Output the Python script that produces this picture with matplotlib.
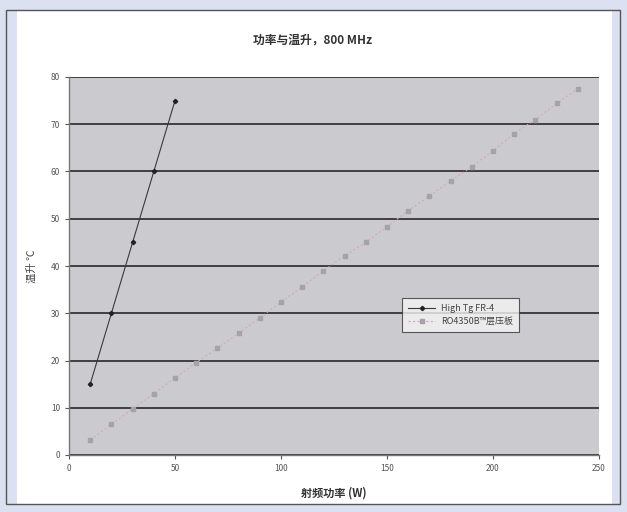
import matplotlib
matplotlib.use("Agg")
import matplotlib.pyplot as plt
from matplotlib.patches import Rectangle

plt.rcParams['font.family'] = ['Noto Sans CJK SC', 'DejaVu Sans']

title = "功率与温升，800 MHz"
xlabel = "射频功率 (W)"
ylabel = "温升 ℃"
series1_name = "High Tg FR-4"
series2_name = "RO4350B™层压板"

fr4_power = [10, 20, 30, 40, 50]
fr4_temp = [15, 30, 45, 60, 75]

ro_power = [10, 20, 30, 40, 50, 60, 70, 80, 90, 100, 110, 120,
            130, 140, 150, 160, 170, 180, 190, 200, 210, 220, 230, 240]
ro_temp = [3.2, 6.5, 9.7, 13.0, 16.3, 19.5, 22.6, 25.8, 29.0, 32.4, 35.6, 39.0,
           42.2, 45.0, 48.3, 51.7, 54.8, 58.0, 61.0, 64.4, 68.0, 71.0, 74.4, 77.5]

xticks = [0, 50, 100, 150, 200, 250]
yticks = [0, 10, 20, 30, 40, 50, 60, 70, 80]

W, H = 627, 512
fig = plt.figure(figsize=(W / 100, H / 100), dpi=100)
fig.patch.set_facecolor('#dce1f1')

# white panel and frame
fig.patches.append(Rectangle((17 / W, 8 / H), (612 - 17) / W, (502 - 8) / H,
                             transform=fig.transFigure, facecolor='white',
                             edgecolor='none', zorder=-2))
fig.patches.append(Rectangle((6 / W, 8 / H), (620 - 6) / W, (502 - 8) / H,
                             transform=fig.transFigure, facecolor='none',
                             edgecolor='#555555', lw=1.0, zorder=-1))

ax = fig.add_axes([69 / W, (H - 455) / H, (599 - 69) / W, (455 - 77) / H])
ax.set_zorder(2)
ax.set_facecolor('#cbcbcf')

ax.plot(fr4_power, fr4_temp, color='#3a3a3a', lw=0.8, marker='D',
        markersize=2.2, markerfacecolor='#222222', markeredgecolor='#222222',
        label=series1_name, zorder=3)
ax.plot(ro_power, ro_temp, color='#d4a8bc', lw=0.8, ls=(0, (2, 2)), marker='s',
        markersize=2.2, markerfacecolor='#a4a4a8', markeredgecolor='#a4a4a8',
        label=series2_name, zorder=3)

ax.set_xlim(0, 250)
ax.set_ylim(0, 80)
ax.set_xticks(xticks)
ax.set_yticks(yticks)
ax.yaxis.grid(True, color='#404040', lw=1.4)
ax.set_axisbelow(True)
ax.tick_params(labelsize=6, colors='#555555', length=3, width=0.8)
for s in ['top', 'right']:
    ax.spines[s].set_visible(False)
for s in ['left', 'bottom']:
    ax.spines[s].set_color('#777777')
    ax.spines[s].set_linewidth(1.0)

fig.text(313 / W, 1 - 40 / H, title, ha='center', va='center', fontsize=8.5,
         fontweight='bold', color='#333333')
ax.set_xlabel(xlabel, fontsize=8, fontweight='bold', color='#333333', labelpad=10)
ax.set_ylabel(ylabel, fontsize=7.5, color='#444444', labelpad=10)

leg = ax.legend(loc='upper left', bbox_to_anchor=((402 - 69) / 530, 1 - (298 - 77) / 378),
                fontsize=6.5, frameon=True, fancybox=False, borderpad=0.7,
                handlelength=3.0, handletextpad=0.6, labelspacing=0.35,
                borderaxespad=0)
leg.get_frame().set_edgecolor('#333333')
leg.get_frame().set_facecolor('#f4f4f4')
leg.get_frame().set_linewidth(0.8)
for t in leg.get_texts():
    t.set_color('#444444')

fig.savefig('out.png', dpi=100, facecolor=fig.get_facecolor())
